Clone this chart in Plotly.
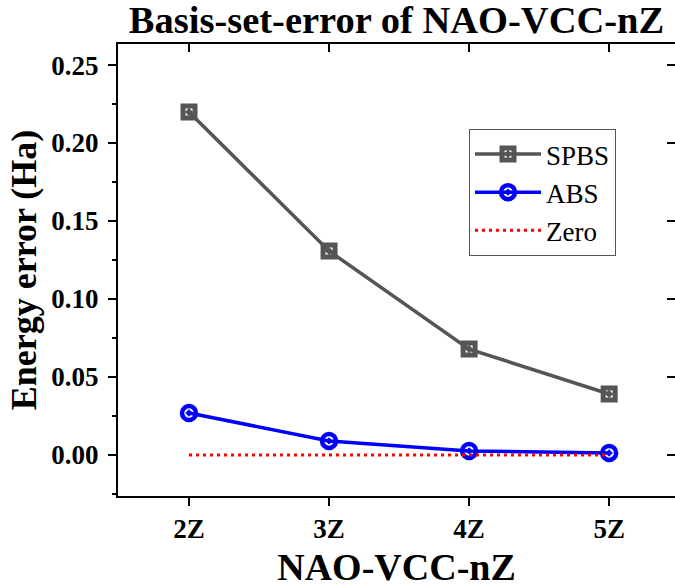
import plotly.graph_objects as go

categories = ["2Z", "3Z", "4Z", "5Z"]
spbs = [0.2199, 0.1308, 0.0679, 0.0391]
abs_vals = [0.0269, 0.0090, 0.0026, 0.0013]
zero = [0.0, 0.0, 0.0, 0.0]
y_ticks = [0.00, 0.05, 0.10, 0.15, 0.20, 0.25]
y_tick_text = ["0.00", "0.05", "0.10", "0.15", "0.20", "0.25"]

FONT = "Liberation Serif"
GRAY = "#555555"
XR = [-0.507, 3.47]
YR = [-0.0263, 0.2635]

fig = go.Figure()
fig.add_trace(go.Scatter(
    x=categories, y=spbs, name="SPBS", mode="lines+markers",
    line=dict(color=GRAY, width=3.5),
    marker=dict(symbol="square-open-dot", size=12, color=GRAY,
                line=dict(color=GRAY, width=5)),
))
fig.add_trace(go.Scatter(
    x=categories, y=abs_vals, name="ABS", mode="lines+markers",
    line=dict(color="#0000FF", width=3.5),
    marker=dict(symbol="circle-open-dot", size=14, color="#0000FF",
                line=dict(color="#0000FF", width=4.5)),
))
fig.add_trace(go.Scatter(
    x=categories, y=zero, name="Zero", mode="lines",
    line=dict(color="#FF0000", width=3, dash="3px,4px"),
))
# invisible helper so the mirrored top/right axes are drawn
fig.add_trace(go.Scatter(
    x=[0], y=[0], xaxis="x2", yaxis="y2", mode="markers",
    marker=dict(opacity=0), showlegend=False, hoverinfo="skip",
))

fig.update_layout(
    width=675, height=588,
    margin=dict(l=118, r=0, t=44, b=92, autoexpand=False),
    paper_bgcolor="white", plot_bgcolor="white",
    font=dict(family=FONT, color="black"),
    title=dict(text="<b>Basis-set-error of NAO-VCC-nZ</b>",
               font=dict(family=FONT, size=38.5, color="black"),
               x=0.5, xanchor="center", xref="paper",
               y=1 - 20 / 588, yanchor="middle"),
    showlegend=True,
    legend=dict(x=(469 - 118) / 557, xanchor="left", xref="paper",
                y=(496 - 129) / 452, yanchor="top", yref="paper",
                bgcolor="white", bordercolor="#555555", borderwidth=1,
                font=dict(family=FONT, size=27, color="black"),
                tracegroupgap=0, itemwidth=66),
    xaxis=dict(
        type="category", range=XR,
        showline=True, linecolor="black", linewidth=2,
        ticks="outside", ticklen=8, tickwidth=2, tickcolor="black",
        tickfont=dict(family=FONT, size=27, color="black", weight="bold"),
        showgrid=False, zeroline=False,
        title=dict(text="<b>NAO-VCC-nZ</b>",
                   font=dict(family=FONT, size=38, color="black"),
                   standoff=10),
    ),
    xaxis2=dict(
        overlaying="x", side="top", anchor="y", type="linear", range=XR,
        showline=True, linecolor="black", linewidth=2,
        tickmode="array", tickvals=list(range(len(categories))),
        ticks="inside", ticklen=8, tickwidth=2, tickcolor="black",
        showticklabels=False, showgrid=False, zeroline=False,
    ),
    yaxis=dict(
        range=YR, tickmode="array", tickvals=y_ticks, ticktext=y_tick_text,
        showline=True, linecolor="black", linewidth=2,
        ticks="outside", ticklen=8, tickwidth=2, tickcolor="black",
        tickfont=dict(family=FONT, size=27, color="black", weight="bold"),
        ticklabelstandoff=4,
        minor=dict(dtick=0.025, tick0=0, ticks="outside", ticklen=4,
                   tickwidth=2, tickcolor="black"),
        showgrid=False, zeroline=False,
        title=dict(text="<b>Energy error (Ha)</b>",
                   font=dict(family=FONT, size=36, color="black"),
                   standoff=4),
    ),
    yaxis2=dict(
        overlaying="y", side="right", anchor="x", range=YR,
        tickmode="array", tickvals=y_ticks,
        showline=False, ticks="inside", ticklen=8, tickwidth=2,
        tickcolor="black", showticklabels=False, showgrid=False,
        zeroline=False,
    ),
)

fig.write_html("out.html")
